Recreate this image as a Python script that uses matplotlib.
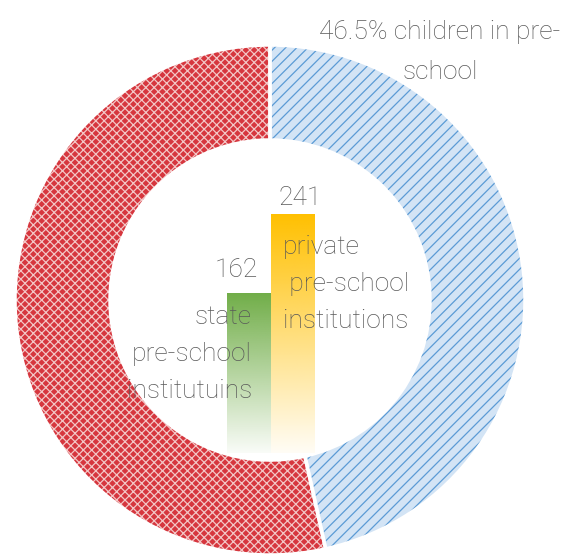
import numpy as np
import matplotlib
matplotlib.use('Agg')
import matplotlib.pyplot as plt
from matplotlib.colors import to_rgb

# data
share_labels = ['children in pre-school', 'not in pre-school']
share_values = [46.5, 53.5]
bar_labels = ['state\npre-school\ninstitutuins', 'private\n pre-school\ninstitutions']
bar_values = [162, 241]
bar_colors = ['#70ad47', '#ffc000']

plt.rcParams['font.family'] = ['Roboto', 'DejaVu Sans']
plt.rcParams['hatch.linewidth'] = 0.9
TXT = '#595959'

W, H = 564, 556
fig = plt.figure(figsize=(W / 100, H / 100), dpi=100)
ax = fig.add_axes([0, 0, 1, 1])

cx, cy, R, ring = 270, H - 300, 255, 95
wedges, _ = ax.pie(share_values, startangle=90, counterclock=False, center=(cx, cy), radius=R,
                   colors=['#d3e4f5', '#d6363e'],
                   wedgeprops=dict(width=ring, linewidth=0))
wedges[0].set_hatch('///')
wedges[0].set_edgecolor('#5b9bd5')
wedges[1].set_hatch('xxxx')
wedges[1].set_edgecolor('#f3c6c6')
# white separators on top
ax.pie(share_values, startangle=90, counterclock=False, center=(cx, cy), radius=R,
       colors=['none', 'none'], wedgeprops=dict(width=ring, linewidth=2.5, edgecolor='white'))
ax.set_xlim(0, W)
ax.set_ylim(0, H)
ax.set_aspect('equal')
ax.axis('off')


def put(x, y, s, **kw):
    # x, y in image pixels from top-left
    fig.text(x / W, 1 - y / H, s, color=TXT, fontsize=19, fontweight='light', zorder=5, **kw)


put(440, 52, f'{share_values[0]}% children in pre-\nschool', ha='center', va='center',
    linespacing=1.85)

# bars in the middle
base_y = 453
px_per_unit = 0.99
bx = fig.add_axes([227 / W, (H - base_y) / H, 87 / W, 260 / H])
bars = bx.bar([0, 1], bar_values, width=1.0, color='none', linewidth=0)
for b, c in zip(bars, bar_colors):
    rgb = to_rgb(c)
    n = 256
    t = np.linspace(0, 1, n)[:, None]
    img = np.zeros((n, 1, 4))
    img[..., :3] = rgb
    img[..., 3] = 0.04 + 0.96 * t
    im = bx.imshow(img, extent=[b.get_x(), b.get_x() + b.get_width(), 0, b.get_height()],
                   origin='lower', aspect='auto', interpolation='bilinear')
    im.set_clip_path(b)
bx.set_xlim(-0.5, 1.5)
bx.set_ylim(0, 260 / px_per_unit)
bx.axis('off')

put(236, 270, str(bar_values[0]), ha='center', va='center')
put(252, 354, bar_labels[0], ha='right', va='center', linespacing=1.7, multialignment='right')
put(300, 198, str(bar_values[1]), ha='center', va='center')
put(283, 284, bar_labels[1], ha='left', va='center', linespacing=1.7)

fig.savefig('out.png', dpi=100)
